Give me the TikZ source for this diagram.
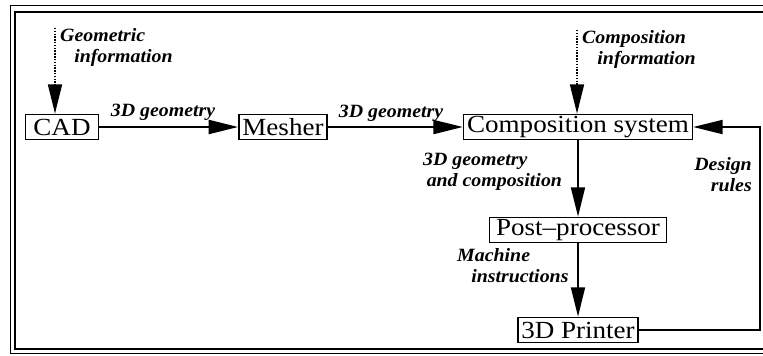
\documentclass[tikz,border=0pt]{standalone}
\usepackage{fontspec}
\setmainfont{Liberation Serif}
\newfontfamily\boxfont{Liberation Serif}[FakeStretch=1.1]
\newfontfamily\labfont{Liberation Serif}[FakeStretch=1.06]
\usetikzlibrary{arrows.meta,positioning,calc}

\begin{document}
\begin{tikzpicture}[>={Triangle[length=25pt,width=12pt]},x=0.03cm,y=0.03cm,
 box/.style={draw,line width=1.5pt,inner xsep=3pt,inner ysep=0pt,minimum height=0.75cm,font=\boxfont\fontsize{21}{24}\selectfont},
 lab/.style={font=\labfont\bfseries\itshape\fontsize{16}{18}\selectfont,inner sep=0pt},
 flow/.style={->,line width=1.4pt},
 info/.style={->,line width=1.2pt,dash pattern=on 1.2pt off 1.2pt}]
\useasboundingbox (0,0) rectangle (763,-355);
\clip (0,0) rectangle (763,-355);
% double frame
\draw[line width=0.8pt] (10,-5) rectangle (780,-353);
\draw[line width=2.5pt] (15,-12) rectangle (780,-349);
% blocks
\node[box,minimum width=2.19cm] (cad) at (62,-127) {CAD};
\node[box] (mesh) at (283,-127) {Mesher};
\node[box] (comp) at (578,-127) {Composition system};
\node[box,minimum width=5.31cm] (post) at (578,-230) {Post–processor};
\node[box] (prn) at (578,-330) {3D Printer};
\coordinate (gi) at (55,-28);
\coordinate (ci) at (577,-30);
\coordinate (fb) at (760,-230);
% labels
\node[lab,align=left,anchor=north west] (lgi) at (60,-28) {Geometric\\\hspace*{12pt}information};
\node[lab,align=left,anchor=north west] (lci) at (582,-30) {Composition\\\hspace*{13pt}information};
\node[lab] (lg1) at (163,-112) {3D geometry};
\node[lab] (lg2) at (391,-113) {3D geometry};
\node[lab,align=left,anchor=north west] (lgc) at (423,-153) {3D geometry\\\hspace*{3pt}and composition};
\node[lab,align=left,anchor=north west] (lmi) at (457,-248) {Machine\\\hspace*{12pt}instructions};
\node[lab,align=right,anchor=north east] (ldr) at (752,-157) {Design\\rules};
% connectors
\draw[info] (gi) -- (gi |- cad.north);
\draw[info] (ci) -- (ci |- comp.north);
\draw[flow] (cad) -- (mesh);
\draw[flow] (mesh) -- (comp);
\draw[flow] (comp) -- (post);
\draw[flow] (post) -- (prn);
\draw[flow] (prn.east) -| (fb) |- (comp.east);
\end{tikzpicture}
\end{document}
